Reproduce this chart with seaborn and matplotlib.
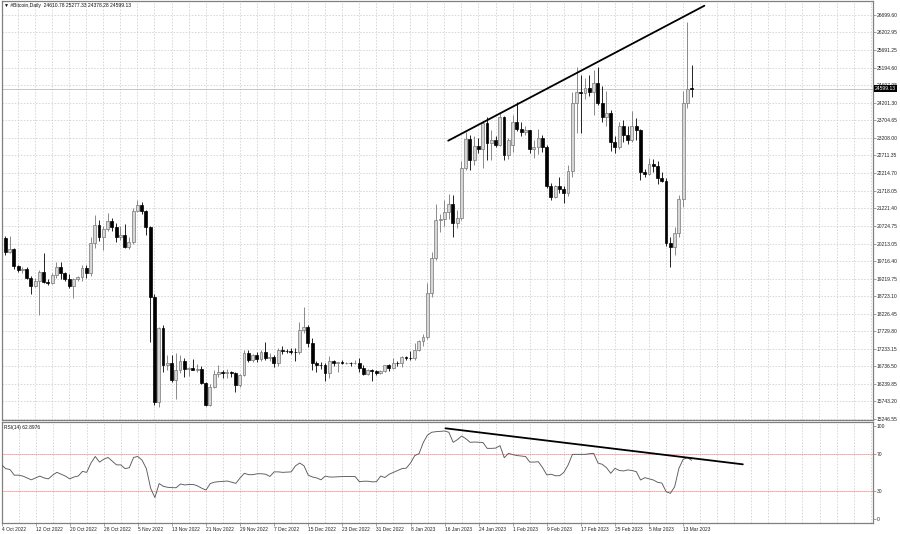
import numpy as np
import pandas as pd
import matplotlib
matplotlib.use("Agg")
import matplotlib.pyplot as plt
import seaborn as sns
from matplotlib.transforms import blended_transform_factory

# ---------------- data ----------------
dates = pd.date_range("2022-10-04", "2023-03-15", freq="D")

opens = [19608, 20365, 19985, 20060, 19580, 19470, 19490, 19230, 19020, 19160,
         19420, 19140, 19100, 19330, 19540, 19370, 19200, 19020, 19200, 19260,
         19510, 19370, 20220, 20740, 20410, 20620, 20860, 20690, 20410, 20460,
         20130, 20270, 21150, 21310, 21150, 20680, 18710, 15740, 17810, 16780,
         16830, 16350, 16620, 16880, 16670, 16690, 16640, 16650, 16270, 15650,
         16140, 16510, 16580, 16560, 16570, 16560, 16210, 16490, 17120, 16920,
         17060, 16950, 17150, 16980, 17000, 16820, 17200, 17180, 17160, 17150,
         17135, 17767, 17860, 17390, 16820, 16780, 16775, 16560, 16897, 16830,
         16850, 16830, 16840, 16830, 16840, 16700, 16510, 16630, 16600, 16550,
         16610, 16775, 16700, 16840, 16830, 17010, 16980, 16960, 17200, 17464,
         17577, 18823, 19798, 20883, 20900, 21118, 21335, 20790, 20950, 22348,
         23177, 22580, 22980, 22900, 23630, 23075, 23150, 23010, 23793, 22725,
         23000, 23668, 23453, 23385, 23435, 22895, 22950, 23197, 22960, 21846,
         21526, 21846, 21753, 21640, 22280, 24190, 24520, 24480, 24614, 24520,
         24773, 24190, 23810, 23906, 23100, 22940, 23546, 23290, 23150, 23546,
         23435, 22250, 22190, 22470, 22413, 22064, 21996, 20222, 20110, 20506,
         21470, 24190, 24610.78]
highs = [20420, 20430, 20430, 20100, 19620, 19540, 19550, 19300, 19240, 19480,
         19940, 19220, 19380, 19700, 19680, 19420, 19340, 19250, 19300, 19600,
         19620, 20410, 21020, 20880, 20700, 21070, 20930, 20810, 20700, 20780,
         20390, 21230, 21450, 21380, 21180, 20720, 18800, 17860, 17900, 17050,
         17060, 17120, 17050, 16960, 16730, 16950, 16800, 16750, 16290, 16250,
         16640, 16770, 16620, 16670, 16600, 16580, 16520, 17200, 17200, 17100,
         17150, 17200, 17430, 17110, 17070, 17270, 17300, 17220, 17270, 17250,
         17990, 18410, 17900, 17530, 16880, 16860, 16820, 17020, 16920, 16870,
         16910, 16870, 16870, 16930, 16960, 16780, 16660, 16650, 16630, 16630,
         16770, 16790, 16970, 16890, 17020, 17030, 17180, 17390, 17490, 17650,
         19090, 19980, 21335, 21050, 21450, 21610, 21590, 21180, 22550, 23385,
         23300, 23250, 23200, 23690, 23800, 23440, 23250, 23906, 23830, 23200,
         23858, 24235, 23650, 23560, 23440, 23150, 23450, 23300, 23010, 21920,
         21880, 22100, 21850, 22450, 24520, 25226, 24990, 24900, 25000, 25133,
         25226, 24680, 24550, 24000, 23250, 23660, 23720, 23560, 23980, 23760,
         23450, 22320, 22650, 22600, 22550, 22250, 22080, 20400, 20693, 21590,
         24550, 26500, 25277.33]
lows = [19550, 19900, 19950, 19500, 19420, 19380, 19200, 18780, 18980, 18190,
        19100, 19050, 19060, 19250, 19200, 19150, 18950, 18660, 19150, 19160,
        19230, 19300, 20080, 20300, 20030, 20580, 20560, 20250, 20330, 20080,
        20060, 20200, 21100, 21050, 20450, 17440, 15650, 15590, 16590, 16620,
        16300, 15800, 16550, 16430, 16460, 16620, 16590, 16250, 15600, 15620,
        16120, 16440, 16400, 16420, 16440, 16020, 16140, 16450, 16860, 16870,
        16860, 16890, 16920, 16900, 16720, 16750, 17090, 17120, 17090, 16890,
        17100, 17690, 17290, 16630, 16590, 16670, 16310, 16400, 16750, 16590,
        16790, 16790, 16740, 16790, 16590, 16490, 16500, 16330, 16490, 16520,
        16570, 16610, 16650, 16750, 16710, 16920, 16910, 16930, 17160, 17320,
        17500, 18700, 19750, 20550, 20700, 20900, 20410, 20660, 20890, 22300,
        22300, 22450, 22770, 22350, 22580, 22580, 22950, 22980, 22580, 22600,
        22800, 23400, 23250, 23280, 22780, 22650, 22750, 22800, 21800, 21450,
        21500, 21650, 21375, 21550, 22100, 23350, 23350, 24300, 24400, 23858,
        24150, 23660, 23550, 22850, 22790, 22900, 23080, 23050, 23100, 23150,
        22016, 22100, 22150, 22250, 21900, 21950, 20150, 19560, 19892, 20400,
        21250, 24048, 24378.28]
closes = [20365, 19985, 20060, 19580, 19470, 19490, 19230, 19020, 19160, 19420,
          19140, 19100, 19330, 19540, 19370, 19200, 19020, 19200, 19260, 19510,
          19370, 20220, 20740, 20410, 20620, 20860, 20690, 20410, 20460, 20130,
          20270, 21150, 21310, 21150, 20680, 18710, 15740, 17810, 16780, 16830,
          16350, 16620, 16880, 16670, 16690, 16640, 16650, 16270, 15650, 16140,
          16510, 16580, 16560, 16570, 16560, 16210, 16490, 17120, 16920, 17060,
          16950, 17150, 16980, 17000, 16820, 17200, 17180, 17160, 17150, 17135,
          17767, 17860, 17390, 16820, 16780, 16775, 16560, 16897, 16830, 16850,
          16830, 16840, 16830, 16840, 16700, 16510, 16630, 16600, 16550, 16610,
          16775, 16700, 16840, 16830, 17010, 16980, 16960, 17200, 17464, 17577,
          18823, 19798, 20883, 20900, 21118, 21335, 20790, 20950, 22348, 23177,
          22580, 22980, 22900, 23630, 23075, 23150, 23010, 23793, 22725, 23150,
          23668, 23453, 23385, 23435, 22895, 22950, 23197, 22960, 21846, 21526,
          21846, 21753, 21640, 22280, 24190, 24520, 24480, 24614, 24520, 24773,
          24190, 23810, 23906, 23100, 22940, 23546, 23290, 23150, 23546, 23435,
          22250, 22190, 22470, 22413, 22064, 21996, 20222, 20110, 20506, 21470,
          24190, 24586, 24599.13]

rsi = [58, 54, 53, 47, 47, 46, 44, 42, 44, 46,
       44, 43, 47, 50, 48, 46, 43, 45, 46, 51,
       50, 60, 67, 61, 64, 66, 62, 58, 58, 54,
       55, 66, 67, 63, 54, 33, 23, 38, 35, 34,
       33.6, 33.5, 37.5, 36.5, 37, 37, 35.5, 33, 31, 38,
       39.5, 40, 40.3, 40.7, 39.5, 38.2, 44, 49, 47.5, 47.5,
       48.5, 48.5, 48, 45.6, 50.5, 50.5, 50, 50.2, 50.5, 57,
       60, 57, 47, 45, 44, 42, 46, 45, 45, 45.3,
       45.5, 45.6, 45.6, 45.5, 40, 40.5, 40.5, 39.8, 40, 46,
       44.5, 48, 50, 52, 54, 54.5, 60, 68, 70, 82,
       90, 93, 93.6, 94, 94.3, 93, 82.2, 85, 89, 86,
       82.2, 82.5, 82.3, 82, 75.7, 75.7, 76, 78.6, 65.7, 70.4,
       69, 68, 67.5, 67, 61, 61, 61.4, 55, 47.2, 48,
       46.4, 46.4, 50, 58, 69.3, 69.3, 69.3, 69.3, 70, 70.4,
       60, 58.6, 55, 49, 54.3, 52, 51.5, 52.6, 52, 50.7,
       41.8, 44.3, 43, 41.8, 39.3, 38.5, 29.3, 27.5, 34.6, 54.3,
       64, 65.7, 62.9]

price_ticks = [26699.60, 26202.95, 25691.25, 25194.60, 24697.95, 24201.30,
               23704.65, 23208.00, 22711.35, 22214.70, 21718.05, 21221.40,
               20724.75, 20213.05, 19716.40, 19219.75, 18723.10, 18226.45,
               17729.80, 17233.15, 16736.50, 16239.85, 15743.20, 15246.55]
price_tick_labels = [f"{v:.2f}" for v in price_ticks]
rsi_ticks = [100, 70, 30, 0]
rsi_levels = [70, 30]
date_tick_labels = ["4 Oct 2022", "12 Oct 2022", "20 Oct 2022", "28 Oct 2022",
                    "5 Nov 2022", "13 Nov 2022", "21 Nov 2022", "29 Nov 2022",
                    "7 Dec 2022", "15 Dec 2022", "23 Dec 2022", "31 Dec 2022",
                    "8 Jan 2023", "16 Jan 2023", "24 Jan 2023", "1 Feb 2023",
                    "9 Feb 2023", "17 Feb 2023", "25 Feb 2023", "5 Mar 2023",
                    "13 Mar 2023"]
title_text = "\u25bc #Bitcoin,Daily  24610.78 25277.33 24378.28 24599.13"
rsi_title = "RSI(14) 62.8976"
last_price = 24599.13

# hand-drawn trendlines (day offset from 4 Oct 2022, value)
price_trend_days = [104.9, 165.0]
price_trend_vals = [23130, 26954]
rsi_trend_days = [104.2, 174.0]
rsi_trend_vals = [97.2, 58.6]

# ---------------- build frame ----------------
df = pd.DataFrame({"date": dates, "open": opens, "high": highs,
                   "low": lows, "close": closes, "rsi": rsi})
df["day"] = (df["date"] - df["date"].iloc[0]).dt.days
df["bull"] = df["close"] >= df["open"]

sns.set_style("white")
plt.rcParams["font.family"] = ["Liberation Sans", "DejaVu Sans"]

W, H = 900, 534
fig = plt.figure(figsize=(W / 100, H / 100), dpi=100)
fig.patch.set_facecolor("white")

def px_box(left, top, right, bottom):
    return [left / W, 1 - bottom / H, (right - left) / W, (bottom - top) / H]

ax = fig.add_axes(px_box(1.5, 1, 872.5, 420))
ax2 = fig.add_axes(px_box(1.5, 422, 872.5, 523.3))

xmin = (1.5 - 1) / 4.263
xmax = (872.5 - 1) / 4.263
for a in (ax, ax2):
    a.set_xlim(xmin, xmax)
    a.set_facecolor("white")
    for s in a.spines.values():
        s.set_color("#808080")
        s.set_linewidth(0.9)

ax.set_ylim(26699.6 - (420 - 14.7) * 28.33, 26699.6 + (14.7 - 1) * 28.33)
ax2.set_ylim(-(523.3 - 519) / 0.933, (519 - 422) / 0.933)

grid_kw = dict(color="#c8c8c8", lw=0.5, dashes=(2.2, 2.2), zorder=0)
for d in np.arange(0, xmax, 4):
    ax.axvline(d, **grid_kw)
    ax2.axvline(d, **grid_kw)
for p in price_ticks:
    ax.axhline(p, **grid_kw)

ax.axhline(last_price, color="#bdbdbd", lw=0.6, zorder=1)

# candles
bull = df[df["bull"]]
bear = df[~df["bull"]]
ax.vlines(bull["day"], bull["low"], bull["high"], color="#777777", lw=0.6, zorder=2)
ax.vlines(bear["day"], bear["low"], bear["high"], color="black", lw=0.6, zorder=2)
bw = 0.68
ax.bar(bull["day"], (bull["close"] - bull["open"]).clip(lower=12), bottom=bull["open"],
       width=bw, color="#d6d6d6", edgecolor="#777777", linewidth=0.5, zorder=3)
ax.bar(bear["day"], (bear["open"] - bear["close"]).clip(lower=12), bottom=bear["close"],
       width=bw, color="black", edgecolor="black", linewidth=0.5, zorder=3)

sns.lineplot(x=price_trend_days, y=price_trend_vals, ax=ax, color="black",
             lw=1.3, zorder=4)

# RSI
sns.lineplot(data=df, x="day", y="rsi", ax=ax2, color="#5a5a5a", lw=0.65, zorder=3)
for lv in rsi_levels:
    ax2.axhline(lv, color="#ff2020", lw=0.6, ls=(0, (1.0, 1.4)), zorder=1)
sns.lineplot(x=rsi_trend_days, y=rsi_trend_vals, ax=ax2, color="black",
             lw=1.3, zorder=4)

ax.set_xlabel(""); ax.set_ylabel("")
ax2.set_xlabel(""); ax2.set_ylabel("")
ax.set_xticks([])
ax.yaxis.tick_right()
ax.set_yticks(price_ticks)
ax.set_yticklabels(price_tick_labels)
ax.tick_params(axis="y", right=True, length=2, width=0.5, color="#808080",
               labelsize=3.6, pad=1.2, labelcolor="#222222")

ax2.yaxis.tick_right()
ax2.set_yticks(rsi_ticks)
ax2.set_yticklabels([str(v) for v in rsi_ticks])
ax2.tick_params(axis="y", right=True, length=2, width=0.5, color="#808080",
                labelsize=3.6, pad=1.2, labelcolor="#222222")
tick_days = df["day"].iloc[::8].values
ax2.set_xticks(tick_days)
ax2.set_xticklabels(date_tick_labels, ha="left")
ax2.tick_params(axis="x", bottom=True, length=2, width=0.5, color="#808080",
                labelsize=3.5, pad=0.8, labelcolor="#222222")

trans = blended_transform_factory(ax.transAxes, ax.transData)
ax.text(1.0 + 2.5 / 871, last_price, f"{last_price:.2f}", transform=trans,
        fontsize=3.6, color="white", va="center", ha="left", zorder=10,
        clip_on=False,
        bbox=dict(boxstyle="square,pad=0.2", fc="black", ec="black", lw=0))

fig.text(4 / W, 1 - 6 / H, title_text, fontsize=3.6, va="center", ha="left",
         color="#111111")
fig.text(4 / W, 1 - 427 / H, rsi_title, fontsize=3.5, va="center", ha="left",
         color="#111111")

fig.savefig("out.png", dpi=100, facecolor="white")
